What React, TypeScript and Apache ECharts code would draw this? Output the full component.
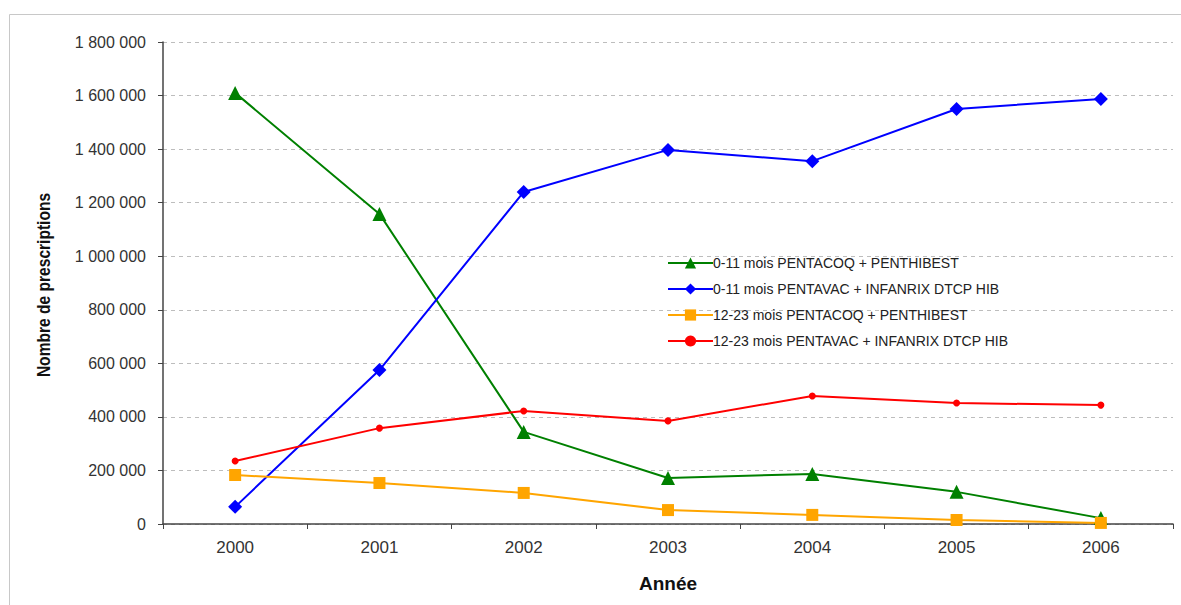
import React, { useEffect, useRef } from "react";
import * as echarts from "echarts";

const years = ["2000", "2001", "2002", "2003", "2004", "2005", "2006"];
const pentacoq011 = [1610000, 1158000, 344000, 172000, 187000, 120000, 22000];
const pentavac011 = [64000, 575000, 1240000, 1397000, 1355000, 1550000, 1587000];
const pentacoq1223 = [183000, 153000, 116000, 52000, 34000, 15000, 4000];
const pentavac1223 = [235000, 358000, 422000, 385000, 478000, 452000, 444000];
const seriesNames = [
  "0-11 mois PENTACOQ + PENTHIBEST",
  "0-11 mois PENTAVAC + INFANRIX DTCP HIB",
  "12-23 mois PENTACOQ + PENTHIBEST",
  "12-23 mois PENTAVAC + INFANRIX DTCP HIB",
];
const xTitle = "Année";
const yTitle = "Nombre de prescriptions";

const fmt = (v: number) => String(v).replace(/\B(?=(\d{3})+(?!\d))/g, " ");

export default function App() {
  const ref = useRef<HTMLDivElement>(null);
  useEffect(() => {
    document.body.style.margin = "0";
    const chart = echarts.init(ref.current!, undefined, { renderer: "svg" });
    const mk = (name: string, data: number[], color: string, symbol: string, size: number) => ({
      name,
      type: "line",
      data,
      symbol,
      symbolSize: size,
      showSymbol: true,
      lineStyle: { color, width: 2 },
      itemStyle: { color },
    });
    chart.setOption({
      animation: false,
      textStyle: { fontFamily: "Liberation Sans, Arial, sans-serif" },
      graphic: [
        {
          type: "rect",
          shape: { x: 9.5, y: 14.5, width: 1200, height: 700 },
          style: { fill: "none", stroke: "#c8c8c8", lineWidth: 1 },
          silent: true,
        },
        {
          type: "text",
          x: 43,
          y: 285,
          rotation: Math.PI / 2,
          scaleX: 0.82,
          style: {
            text: yTitle,
            font: "bold 19px 'Liberation Sans', Arial, sans-serif",
            fill: "#111",
            align: "center",
            verticalAlign: "middle",
          },
          silent: true,
        },
      ],
      grid: { left: 163, right: 8, top: 42, bottom: 81 },
      legend: {
        orient: "vertical",
        left: 667,
        top: 256,
        padding: 0,
        itemWidth: 45,
        itemHeight: 14,
        itemGap: 12,
        textStyle: { fontSize: 14, color: "#222", padding: [0, 0, 0, -5] },
        data: seriesNames,
      },
      xAxis: {
        type: "category",
        data: years,
        boundaryGap: true,
        name: xTitle,
        nameLocation: "middle",
        nameGap: 50,
        nameTextStyle: { fontSize: 19, fontWeight: "bold", color: "#111" },
        axisLine: { lineStyle: { color: "#444", width: 1.5 } },
        axisTick: { show: true, length: 5, inside: false, lineStyle: { color: "#444" } },
        axisLabel: { fontSize: 17, color: "#333", margin: 15 },
      },
      yAxis: {
        type: "value",
        min: 0,
        max: 1800000,
        interval: 200000,
        axisLine: { show: true, lineStyle: { color: "#444", width: 1.5 } },
        axisTick: { show: true, length: 5, lineStyle: { color: "#444" } },
        axisLabel: { fontSize: 16, color: "#333", margin: 17, formatter: (v: number) => fmt(v) },
        splitLine: { show: true, lineStyle: { color: "#bdbdbd", type: [4, 4], width: 1 } },
      },
      series: [
        mk(seriesNames[0], pentacoq011, "#008000", "triangle", 14),
        mk(seriesNames[1], pentavac011, "#0000ff", "diamond", 14),
        mk(seriesNames[2], pentacoq1223, "#ffa500", "rect", 12),
        mk(seriesNames[3], pentavac1223, "#ff0000", "circle", 7),
      ],
    });
    return () => chart.dispose();
  }, []);
  return <div ref={ref} style={{ position: "absolute", left: 0, top: 0, width: 1181, height: 605 }} />;
}
